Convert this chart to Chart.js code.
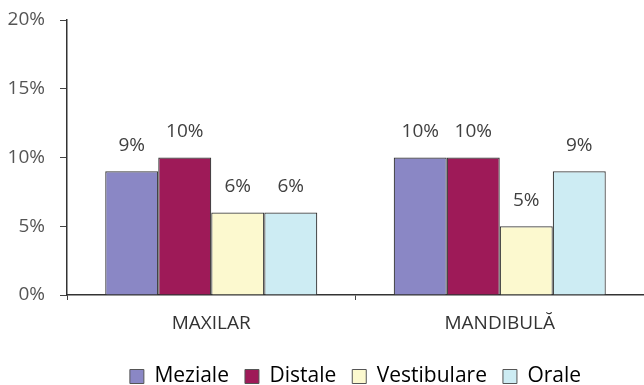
<!DOCTYPE html>
<html>
<head>
<meta charset="utf-8">
<script src="https://cdn.jsdelivr.net/npm/chart.js@4/dist/chart.umd.min.js"></script>
<style>
  html, body { margin: 0; padding: 0; background: #ffffff; }
  #wrap { width: 644px; height: 385px; }
</style>
</head>
<body>
<div id="wrap"><canvas id="c" width="644" height="385"></canvas></div>
<script>
const categories = ['MAXILAR', 'MANDIBULĂ'];
const seriesNames = ['Meziale', 'Distale', 'Vestibulare', 'Orale'];
const meziale = [9, 10];
const distale = [10, 10];
const vestibulare = [6, 5];
const orale = [6, 9];
const yTicks = [0, 5, 10, 15, 20];

const colors = ['#8a87c5', '#9e1a58', '#fcf9cf', '#cdecf3'];
const FONT = '"Open Sans", Lato, sans-serif';

// value labels above each bar
const valueLabels = {
  id: 'valueLabels',
  afterDatasetsDraw(chart) {
    const ctx = chart.ctx;
    ctx.save();
    ctx.font = '19px ' + FONT;
    ctx.fillStyle = '#404040';
    ctx.textAlign = 'center';
    ctx.textBaseline = 'middle';
    chart.data.datasets.forEach((ds, i) => {
      chart.getDatasetMeta(i).data.forEach((bar, j) => {
        ctx.fillText(ds.data[j] + '%', bar.x, bar.y - 26);
      });
    });
    ctx.restore();
  }
};

const seriesData = [meziale, distale, vestibulare, orale];

new Chart(document.getElementById('c'), {
  type: 'bar',
  data: {
    labels: categories,
    datasets: seriesNames.map((name, i) => ({
      label: name,
      data: seriesData[i],
      backgroundColor: colors[i],
      borderColor: '#3a3a3a',
      borderWidth: 1.2,
      borderSkipped: 'bottom',
      barPercentage: 1,
      categoryPercentage: 0.735
    }))
  },
  options: {
    responsive: false,
    animation: false,
    layout: { padding: { top: 20, right: 0, bottom: -12, left: 0 } },
    plugins: {
      tooltip: { enabled: false },
      legend: {
        position: 'bottom',
        fullSize: false,
        labels: {
          font: { family: FONT, size: 21 },
          color: '#3a3a3a',
          boxWidth: 14,
          boxHeight: 14,
          padding: 16,
          generateLabels(chart) {
            return chart.data.datasets.map((ds, i) => ({
              text: ds.label,
              fillStyle: ds.backgroundColor,
              strokeStyle: '#555555',
              lineWidth: 1,
              datasetIndex: i
            }));
          }
        }
      }
    },
    scales: {
      x: {
        offset: true,
        grid: { display: true, drawOnChartArea: false, drawTicks: true, tickLength: 5, color: '#444444', offset: true },
        border: { display: true, color: '#333333', width: 1.5 },
        ticks: { font: { family: FONT, size: 19 }, color: '#333333', padding: 12 },
        afterFit(scale) { scale.height = 55; }
      },
      y: {
        min: 0,
        max: 20,
        afterBuildTicks(scale) { scale.ticks = yTicks.map(v => ({ value: v })); },
        grid: { display: true, drawOnChartArea: false, drawTicks: true, tickLength: 7, color: '#444444' },
        border: { display: true, color: '#333333', width: 1.5 },
        ticks: {
          font: { family: FONT, size: 19 },
          color: '#555555',
          padding: 15,
          callback: v => v + '%'
        },
        afterFit(scale) { scale.width = 67; scale.paddingTop = 0; scale.paddingBottom = 0; }
      }
    }
  },
  plugins: [valueLabels]
});
</script>
</body>
</html>
